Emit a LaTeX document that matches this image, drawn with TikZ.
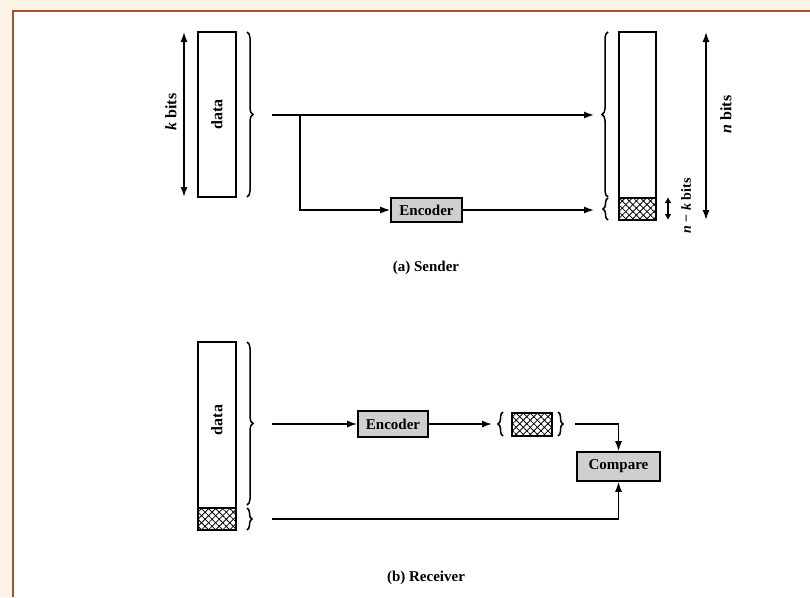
\documentclass[tikz,border=0pt]{standalone}
\usepackage{fontspec}
\setmainfont{Liberation Serif}
\usetikzlibrary{arrows.meta,decorations.pathreplacing,patterns.meta,calc}
\definecolor{cream}{HTML}{FDF3E6}
\definecolor{framebrown}{HTML}{A0522D}
\definecolor{boxgray}{HTML}{CFCFCF}
\tikzset{
  col/.style={draw, line width=1.6pt, inner sep=0pt},
  blk/.style={draw, line width=1.6pt, fill=boxgray, inner sep=0pt, font=\fontsize{15}{15}\selectfont\bfseries},
  conn/.style={line width=1.4pt, -{Latex[length=10pt,width=7pt]}},
  dbl/.style={line width=1.4pt, {Latex[length=10pt,width=7pt]}-{Latex[length=10pt,width=7pt]}},
  brc/.style={decorate, decoration={brace, amplitude=6pt}, line width=1.5pt},
  hatchA/.style={pattern={Lines[angle=45,distance=5pt,line width=0.8pt]}},
  hatchB/.style={pattern={Lines[angle=-45,distance=5pt,line width=0.8pt]}},
  lbl/.style={font=\fontsize{16}{16}\selectfont\bfseries},
  captext/.style={font=\fontsize{15}{15}\selectfont\bfseries}
}
\begin{document}
\begin{tikzpicture}[x=1pt,y=-1pt]
\useasboundingbox (0,0) rectangle (810,597);
\fill[cream] (0,0) rectangle (810,597);
\fill[white] (13,11) rectangle (810,597);
\draw[framebrown, line width=2.2pt] (13,597) -- (13,11) -- (810,11);

% ---------------- Sender ----------------
\node[col, minimum width=38pt, minimum height=165pt] (sdata) at (217,114.5) {};
\node[lbl, rotate=90] (sdatat) at (sdata) {data};
\coordinate (ka) at (184,32);
\coordinate (kb) at (184,197);
\draw[dbl] (ka) -- (kb);
\node[lbl, rotate=90] (klab) at (171,112) {\textit{k} bits};
\draw[brc] (247,32) -- (247,197);
\coordinate (s1) at (272,115);
\coordinate (sj) at (300,115);
\coordinate (rtip1) at (594,115);
\draw[conn] (s1) -- (rtip1);
\node[blk, minimum width=71pt, minimum height=24pt] (senc) at (426.5,210) {Encoder};
\draw[conn] (sj) |- (senc.west);
\coordinate (rtip2) at (594,210);
\draw[conn] (senc.east) -- (rtip2);
\draw[brc] (608,197) -- (608,32);
\draw[brc, decoration={brace, amplitude=5pt}] (608,220) -- (608,198);
\fill[hatchA] (619,198) rectangle (656,220);
\fill[hatchB] (619,198) rectangle (656,220);
\draw[line width=1.6pt] (619,198) -- (656,198);
\node[col, minimum width=37pt, minimum height=188pt] (ncol) at (637.5,126) {};
\coordinate (nka) at (668,197);
\coordinate (nkb) at (668,220);
\draw[line width=1.4pt, {Latex[length=6pt,width=7pt]}-{Latex[length=6pt,width=7pt]}] (nka) -- (nkb);
\node[lbl, rotate=90, font=\fontsize{14}{14}\selectfont\bfseries] (nklab) at (686,206) {\textit{n} − \textit{k} bits};
\coordinate (na) at (706,32);
\coordinate (nb) at (706,220);
\draw[dbl] (na) -- (nb);
\node[lbl, rotate=90] (nlab) at (726,114.5) {\textit{n} bits};
\node[captext] (capa) at (426,268) {(a) Sender};

% ---------------- Receiver ----------------
\fill[hatchA] (198,508) rectangle (236,530);
\fill[hatchB] (198,508) rectangle (236,530);
\draw[line width=1.6pt] (198,508) -- (236,508);
\node[col, minimum width=38pt, minimum height=188pt] (rdata) at (217,436) {};
\node[lbl, rotate=90] (rdatat) at (217,420) {data};
\draw[brc] (247,342) -- (247,505);
\draw[brc, decoration={brace, amplitude=5pt}] (247,508) -- (247,530);
\coordinate (r1) at (272,424);
\node[blk, minimum width=70pt, minimum height=26pt] (renc) at (393,424) {Encoder};
\draw[conn] (r1) -- (renc.west);
\coordinate (rtip3) at (492,424);
\draw[conn] (renc.east) -- (rtip3);
\draw[brc, decoration={brace, amplitude=5pt}] (503,436) -- (503,412);
\fill[hatchA] (512,413) rectangle (552,436);
\fill[hatchB] (512,413) rectangle (552,436);
\node[col, minimum width=40pt, minimum height=23pt] (rchk) at (532,424.5) {};
\draw[brc, decoration={brace, amplitude=5pt}] (558,412) -- (558,436);
\node[blk, minimum width=83pt, minimum height=29pt] (cmp) at (618.5,466.5) {Compare};
\coordinate (r2) at (575,424);
\draw[conn] (r2) -| (cmp.north);
\coordinate (r3) at (272,519);
\draw[conn] (r3) -| (cmp.south);
\node[captext] (capb) at (426,578) {(b) Receiver};
\end{tikzpicture}
\end{document}
